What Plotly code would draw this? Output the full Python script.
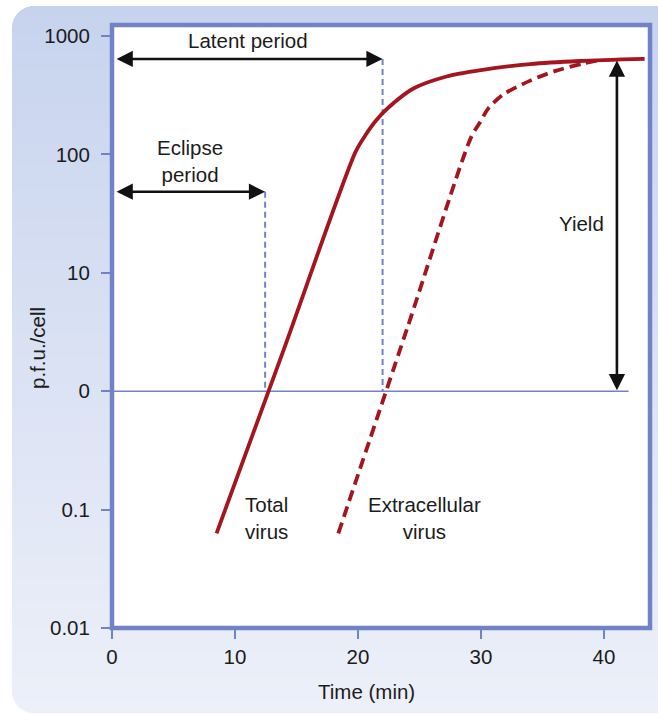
import math
import plotly.graph_objects as go

# ---------------- data ----------------
total_time = [8.5, 14.0, 19.8, 20.6, 21.5, 22.5, 24.5, 27.2, 30.0, 34.0, 38.0, 43.3]
total_pfu = [0.063, 2.3, 105, 145, 195, 250, 360, 455, 515, 580, 615, 640]
extra_time = [18.4, 24.0, 29.2, 29.9, 30.6, 31.8, 34.0, 36.0, 38.3, 39.6]
extra_pfu = [0.063, 3.4, 140, 185, 245, 320, 420, 505, 585, 625]

y_tickvals = [0.01, 0.1, 1, 10, 100, 1000]
y_ticktext = ["0.01", "0.1", "0", "10", "100", "1000"]
x_tickvals = [0, 10, 20, 30, 40]

eclipse_end = 12.45
eclipse_level = 48.4
latent_end = 22.0
latent_level = 640
yield_time = 41.05
yield_top = 640
yield_base = 1
baseline_end = 42.0

# ---------------- style ----------------
W, H = 658, 715
ML, MR, MT, MB = 112, 8, 25, 87
RED = "#a3161f"
BLUE = "#7282c6"
TXT = "#1c1c1c"
FONT = "Liberation Sans, Arial, Helvetica, sans-serif"
FS = 20.5


def px(xp):
    return (xp - ML) / (W - ML - MR)


def py(yp):
    return (H - MB - yp) / (H - MT - MB)


fig = go.Figure()

# background panel gradient (stripes) with rounded left corners
top, bottom, left, r = 6, 713, 12, 22
c0 = (199, 211, 238)
c1 = (237, 240, 249)
shapes = []
y = top
while y < bottom:
    step = 1 if (y < top + r or y > bottom - r) else 3
    y2 = min(y + step, bottom)
    m = (y + y2) / 2
    xl = left
    if m < top + r:
        d = (top + r) - m
        xl = left + r - math.sqrt(max(r * r - d * d, 0))
    elif m > bottom - r:
        d = m - (bottom - r)
        xl = left + r - math.sqrt(max(r * r - d * d, 0))
    t = (m - top) / (bottom - top)
    col = "rgb(%d,%d,%d)" % tuple(round(c0[i] + (c1[i] - c0[i]) * t) for i in range(3))
    shapes.append(dict(type="rect", xref="paper", yref="paper", x0=px(xl), x1=px(700),
                       y0=py(y2 + 0.3), y1=py(y), fillcolor=col, line=dict(width=0),
                       layer="below"))
    y = y2
# white plot area
shapes.append(dict(type="rect", xref="paper", yref="paper", x0=0, x1=1, y0=0, y1=1,
                   fillcolor="white", line=dict(width=0), layer="below"))
# border
shapes.append(dict(type="rect", xref="paper", yref="paper", x0=0, x1=1, y0=0, y1=1,
                   line=dict(color=BLUE, width=4.5), layer="above"))

# baseline and dashed guides
fig.add_trace(go.Scatter(x=[0, baseline_end], y=[yield_base, yield_base], mode="lines",
                         line=dict(color=BLUE, width=1.6), hoverinfo="skip"))
fig.add_trace(go.Scatter(x=[eclipse_end, eclipse_end], y=[eclipse_level, yield_base], mode="lines",
                         line=dict(color=BLUE, width=2, dash="6px,4px"), hoverinfo="skip"))
fig.add_trace(go.Scatter(x=[latent_end, latent_end], y=[latent_level, yield_base], mode="lines",
                         line=dict(color=BLUE, width=2, dash="6px,4px"), hoverinfo="skip"))

# curves
fig.add_trace(go.Scatter(x=total_time, y=total_pfu, mode="lines",
                         line=dict(color=RED, width=3.8, shape="spline", smoothing=0.8),
                         hoverinfo="skip"))
fig.add_trace(go.Scatter(x=extra_time, y=extra_pfu, mode="lines",
                         line=dict(color=RED, width=3.8, shape="spline", smoothing=0.8,
                                   dash="11px,6px"),
                         hoverinfo="skip"))

L = math.log10
ann = []


def arrow(x, y, ax, ay):
    ann.append(dict(x=x, y=L(y), ax=ax, ay=L(ay), xref="x", yref="y", axref="x", ayref="y",
                    text="", showarrow=True, arrowhead=2, startarrowhead=2,
                    arrowside="end+start", arrowsize=1.25, startarrowsize=1.25,
                    arrowwidth=2.6, arrowcolor="#111111"))


arrow(latent_end, latent_level, 0.25, latent_level)
arrow(eclipse_end, eclipse_level, 0.25, eclipse_level)
arrow(yield_time, yield_base * 1.02, yield_time, yield_top)


def label(text, x, ylog, size=FS):
    ann.append(dict(x=x, y=ylog, xref="x", yref="y", text=text, showarrow=False,
                    font=dict(family=FONT, size=size, color=TXT), xanchor="center",
                    yanchor="middle", align="center"))


label("Latent period", 11.05, 2.958)
label("Eclipse<br>period", 6.34, 1.944)
label("Yield", 38.2, 1.42)
label("Total<br>virus", 12.52, -1.071)
label("Extracellular<br>virus", 25.37, -1.071)

ann.append(dict(x=px(37), y=py(348), xref="paper", yref="paper", text="p.f.u./cell",
                textangle=-90, showarrow=False, xanchor="center", yanchor="middle",
                font=dict(family=FONT, size=FS, color=TXT)))
ann.append(dict(x=px(366), y=py(691), xref="paper", yref="paper", text="Time (min)",
                showarrow=False, xanchor="center", yanchor="middle",
                font=dict(family=FONT, size=FS, color=TXT)))

fig.update_layout(
    width=W, height=H, autosize=False,
    margin=dict(l=ML, r=MR, t=MT, b=MB, pad=0),
    paper_bgcolor="white", plot_bgcolor="rgba(0,0,0,0)",
    showlegend=False, shapes=shapes, annotations=ann,
    font=dict(family=FONT, size=FS, color=TXT),
    xaxis=dict(range=[0, 43.74], tickvals=x_tickvals, ticks="outside", ticklen=10,
               tickwidth=2, tickcolor=BLUE, showgrid=False, zeroline=False, showline=False,
               ticklabelstandoff=0, tickfont=dict(family=FONT, size=FS, color=TXT)),
    yaxis=dict(type="log", range=[-2, 3.093], tickvals=y_tickvals, ticktext=y_ticktext,
               ticks="outside", ticklen=10, tickwidth=2, tickcolor=BLUE, showgrid=False,
               zeroline=False, showline=False, ticklabelstandoff=7,
               tickfont=dict(family=FONT, size=FS, color=TXT)),
)

fig.write_html("out.html", config={"displayModeBar": False},
               post_script="document.body.style.margin='0px';document.body.style.overflow='hidden';")
